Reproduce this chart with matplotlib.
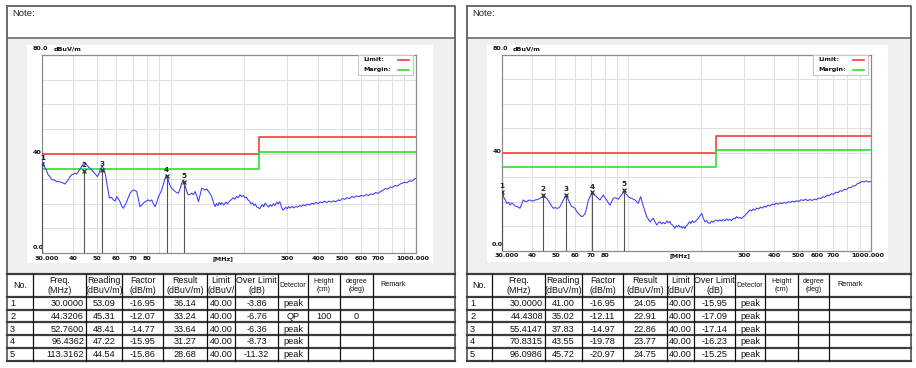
import matplotlib
matplotlib.use('Agg')
import matplotlib.pyplot as plt
from matplotlib.patches import Rectangle
from matplotlib.lines import Line2D

plt.rcParams['font.family'] = ['Liberation Sans', 'DejaVu Sans']

# ---------------- data ----------------
x_ticks = [30, 40, 50, 60, 70, 80, 90, 100, 200, 300, 400, 500, 600, 700, 800, 900, 1000]
x_tick_labels = ['', '40', '50', '60', '70', '80', '', '', '', '300', '400', '500', '600', '700', '', '', '']
limit_freq = [30, 230, 230, 1000]
limit_level = [40, 40, 47, 47]
margin_level = [34, 34, 41, 41]

left_freq = [30.0, 30.4, 30.8, 31.2, 31.7, 32.2, 32.7, 33.5, 34.3, 35.1, 36.0, 36.5, 37.1, 37.7, 38.3,
             38.9, 39.5, 40.2, 40.8, 41.4, 42.1, 43.0, 44.1, 44.8, 45.5, 46.9, 48.4, 49.4, 50.3, 51.0,
             51.6, 52.7, 53.4, 54.1, 55.3, 56.3, 57.4, 58.5, 59.4, 60.3, 61.2, 62.2, 63.2, 64.2, 65.2,
             66.3, 67.3, 68.4, 69.5, 70.6, 71.7, 72.8, 73.9, 75.1, 76.3, 77.5, 79.3, 81.2, 82.5, 83.8,
             85.1, 86.5, 87.9, 89.3, 90.7, 92.1, 93.5, 95.0, 96.5, 97.6, 98.7, 100.0, 101.2, 102.8, 104.4,
             106.0, 107.7, 109.4, 111.1, 112.9, 114.1, 115.4, 116.8, 118.3, 120.2, 122.1, 124.0, 126.0,
             128.0, 130.0, 132.0, 134.1, 136.2, 138.4, 140.6, 142.8, 145.0, 147.3, 149.6,
             152, 154, 156, 158, 160, 162, 165, 168, 171, 174, 177, 180, 183, 186, 189, 192, 195, 198,
             201, 204, 207, 210, 213, 216, 219, 222, 225, 228, 231, 234, 237, 240, 243, 247, 251, 255,
             259, 263, 267, 271, 275, 279, 283, 287, 291, 295, 299, 303, 308, 313, 318, 324, 330, 336,
             342, 348, 355, 362, 369, 376, 384, 392, 400, 408, 416, 425, 434, 443, 452, 462, 472, 482,
             492, 503, 514, 525, 537, 549, 561, 574, 587, 600, 614, 628, 642, 657, 672, 687, 703, 719,
             735, 752, 769, 787, 805, 823, 842, 861, 881, 901, 921, 942, 963, 985, 1000]
left_level = [37.0, 35.8, 34.3, 33.5, 31.6, 31.0, 29.8, 29.5, 28.9, 28.9, 28.5, 28.3, 27.9, 28.8, 29.6,
              30.8, 31.6, 31.9, 32.3, 31.9, 32.9, 34.3, 36.0, 36.3, 35.6, 34.3, 32.9, 31.8, 30.9, 32.0,
              33.6, 35.2, 34.0, 32.3, 26.9, 22.2, 22.6, 21.5, 21.0, 22.8, 22.0, 20.8, 19.0, 18.1, 19.3,
              20.8, 22.5, 24.2, 25.0, 25.5, 25.3, 24.9, 22.0, 18.8, 19.4, 20.2, 20.9, 21.5, 21.0, 21.5,
              20.0, 18.8, 20.5, 22.8, 24.1, 25.5, 27.8, 30.2, 31.6, 30.0, 28.2, 27.0, 26.2, 25.5, 24.9,
              24.4, 24.2, 26.0, 28.2, 29.6, 28.0, 26.2, 24.5, 23.5, 23.8, 24.2, 23.6, 24.9,
              23.0, 20.8, 23.5, 26.2, 25.8, 25.5, 25.9, 24.9, 24.0, 22.8, 20.5,
              18.8, 20.0, 19.2, 20.5, 19.6, 20.4, 19.4, 20.6, 19.9, 21.0, 21.6, 22.4, 21.8, 22.9, 22.4,
              23.6, 22.8, 23.3, 22.4, 22.6, 21.5, 21.0, 19.9, 20.3, 19.2, 19.8, 18.6, 18.4, 17.9, 18.9,
              19.6, 18.7, 20.2, 19.3, 18.6, 19.6, 18.9, 20.0, 19.2, 20.6, 19.9, 20.8, 18.9, 17.4, 17.8,
              18.6, 17.9, 18.8, 18.2, 18.9, 18.3, 18.8, 18.6, 19.2, 18.9, 19.5, 19.1, 19.8, 19.4, 20.1,
              19.8, 20.5, 20.0, 20.7, 20.3, 21.0, 20.4, 21.0, 20.6, 21.1, 20.7, 21.5, 21.2, 22.1, 21.7,
              22.4, 22.0, 22.9, 22.5, 23.1, 22.8, 23.3, 23.0, 23.6, 23.3, 23.9, 23.7, 24.5, 24.1, 24.9,
              25.3, 26.1, 25.8, 26.7, 26.5, 27.3, 27.1, 27.8, 28.2, 28.6, 28.4, 29.2, 29.0, 29.8, 30.2]

right_freq = [30.0, 30.4, 30.7, 31.1, 31.5, 32.0, 32.5, 33.0, 33.5, 34.0, 34.6, 35.1, 35.7, 36.2, 36.8,
              37.4, 38.0, 38.6, 39.3, 40.2, 41.2, 42.2, 43.2, 44.5, 45.2, 46.0, 46.7, 47.5, 48.2, 49.0,
              49.8, 50.6, 51.4, 52.2, 53.0, 53.9, 55.3, 55.9, 56.5, 57.4, 58.3, 59.2, 60.2, 61.1, 62.1,
              63.1, 64.1, 65.1, 66.2, 67.2, 68.3, 69.6, 71.0, 72.4, 73.9, 75.1, 76.3, 77.5, 78.8, 80.0,
              81.3, 82.6, 83.9, 85.2, 86.6, 88.0, 89.4, 90.8, 92.3, 94.2, 96.2, 98.0, 99.9, 101.5, 103.1,
              104.7, 106.4, 108.1, 109.8, 111.0, 112.3, 113.7, 115.2, 117.0, 118.9, 120.8, 122.7, 124.6,
              126.6, 128.6, 130.7, 132.8,
              134.9, 137, 139, 141.5, 144, 146, 148.3, 150, 152, 154, 155.5, 157, 159.3, 161, 163.1,
              165, 167, 169, 171, 173, 175.1, 177, 179.3, 181, 183.6, 186, 188, 191, 194.1, 197.2,
              200.4, 203.6, 206.8, 210, 213, 216.9, 220, 223.8, 227, 231, 234, 238, 242, 246, 250,
              254, 258, 262, 266, 271, 275, 279, 284, 288, 293, 297.5, 302, 307, 312, 317, 322, 327,
              332, 338, 344, 350, 356, 362, 369, 376, 383, 390, 398, 406, 414, 422, 430, 438, 447,
              456, 465, 474, 484, 494, 504, 515, 526, 537, 548, 560, 572, 584, 596, 608, 620, 633,
              646, 659, 673, 687, 701, 716, 731, 746, 762, 778, 794, 810, 827, 844, 862, 880, 898,
              917, 936, 956, 976, 1000]
right_level = [24.1, 23.0, 21.4, 20.5, 19.3, 19.8, 18.6, 19.5, 19.0, 18.3, 18.0, 17.8, 17.3, 18.8, 20.7,
               20.2, 20.0, 20.5, 20.7, 20.2, 20.7, 20.9, 21.4, 22.0, 21.8, 21.4, 20.4, 19.3, 18.2, 17.3,
               17.6, 17.3, 17.4, 18.0, 19.3, 20.7, 22.7, 21.8, 20.7, 19.2, 18.0, 17.8, 17.3, 16.0, 15.2,
               14.5, 13.9, 14.2, 15.2, 17.5, 20.7, 22.3, 23.4, 22.8, 22.0, 21.2, 20.7, 21.8, 22.7, 21.5,
               20.7, 19.5, 18.6, 20.0, 21.4, 21.6, 21.4, 21.0, 22.0, 23.2, 24.1, 23.0, 22.0, 21.6, 21.4,
               21.0, 20.7, 20.0, 19.3, 20.8, 22.0, 20.0, 18.0, 16.0, 13.9, 12.8, 11.8, 12.6,
               13.2, 11.8, 10.5, 11.4,
               11.8, 10.9, 11.6, 11.0, 12.1, 11.4, 11.9, 10.8, 10.5, 9.6, 9.1, 10.2, 9.8, 10.4, 9.6,
               9.9, 9.2, 9.8, 9.1, 10.2, 10.5, 11.4, 11.8, 11.1, 12.2, 11.5, 11.8, 12.6, 13.2, 14.3,
               15.2, 13.2, 11.8, 12.3, 11.3, 11.2, 12.0, 11.6, 12.4, 12.5, 12.0, 12.6, 12.1, 12.7, 12.2,
               13.0, 12.4, 12.8, 12.3, 13.2, 13.0, 13.9, 13.3, 13.6, 13.1, 13.9, 14.3, 15.2, 15.9, 16.6,
               16.2, 17.0, 16.6, 17.4, 17.0, 17.8, 17.4, 18.1, 17.8, 18.6, 18.2, 19.0, 18.7, 19.4, 19.0,
               19.5, 19.2, 19.7, 19.4, 20.0, 19.7, 20.2, 19.9, 20.4, 20.1, 20.8, 20.5, 21.0, 20.4, 20.9,
               20.5, 21.1, 20.8, 21.5, 21.3, 22.0, 21.8, 22.7, 22.4, 23.3, 23.0, 23.9, 23.7, 24.5, 24.3,
               25.1, 25.0, 25.8, 25.7, 26.5, 26.5, 27.4, 27.6, 28.3, 28.0, 28.5, 28.1, 28.2]

header = ['No.', 'Freq.\n(MHz)', 'Reading\n(dBuV/m)', 'Factor\n(dB/m)', 'Result\n(dBuV/m)',
          'Limit\n(dBuV/', 'Over Limit\n(dB)', 'Detector', 'Height\n(cm)', 'degree\n(deg)', 'Remark']

left_no = ['1', '2', '3', '4', '5']
left_freq_txt = ['30.0000', '44.3206', '52.7600', '96.4362', '113.3162']
left_reading = ['53.09', '45.31', '48.41', '47.22', '44.54']
left_factor = ['-16.95', '-12.07', '-14.77', '-15.95', '-15.86']
left_result = ['36.14', '33.24', '33.64', '31.27', '28.68']
left_limit = ['40.00', '40.00', '40.00', '40.00', '40.00']
left_over = ['-3.86', '-6.76', '-6.36', '-8.73', '-11.32']
left_detector = ['peak', 'QP', 'peak', 'peak', 'peak']
left_height = ['', '100', '', '', '']
left_degree = ['', '0', '', '', '']

right_no = ['1', '2', '3', '4', '5']
right_freq_txt = ['30.0000', '44.4308', '55.4147', '70.8315', '96.0986']
right_reading = ['41.00', '35.02', '37.83', '43.55', '45.72']
right_factor = ['-16.95', '-12.11', '-14.97', '-19.78', '-20.97']
right_result = ['24.05', '22.91', '22.86', '23.77', '24.75']
right_limit = ['40.00', '40.00', '40.00', '40.00', '40.00']
right_over = ['-15.95', '-17.09', '-17.14', '-16.23', '-15.25']
right_detector = ['peak', 'peak', 'peak', 'peak', 'peak']
right_height = ['', '', '', '', '']
right_degree = ['', '', '', '', '']

# ---------------- layout helpers ----------------
W, H = 916, 368
fig = plt.figure(figsize=(W / 100, H / 100), dpi=100)
fig.patch.set_facecolor('white')


def fx(x):
    return x / W


def fy(y):
    return 1 - y / H


def rect(x0, y0, x1, y1, **kw):
    fig.add_artist(Rectangle((fx(x0), fy(y1)), fx(x1) - fx(x0), fy(y0) - fy(y1),
                             transform=fig.transFigure, **kw))


def line(xs, ys, **kw):
    fig.add_artist(Line2D([fx(v) for v in xs], [fy(v) for v in ys], transform=fig.transFigure, **kw))


TRACE = '#3a3aff'
RED = '#ff3a3a'
GREEN = '#2ee02e'
BORDER = '#6a6a6a'


def panel(L, R, cols, chart_box, axes_box, trace_f, trace_v, tbl):
    # panel background pieces
    rect(L, 38, R, 273, facecolor='#f0f0f0', edgecolor='none', zorder=0)
    rect(chart_box[0], chart_box[1], chart_box[2], chart_box[3], facecolor='white',
         edgecolor='none', zorder=0.5)
    # outer border and separators
    line([L, R, R, L, L], [6, 6, 361, 361, 6], color=BORDER, lw=1.4, zorder=3)
    line([L, R], [38, 38], color=BORDER, lw=1.2, zorder=3)
    fig.text(fx(L + 5), fy(14), 'Note:', fontsize=6.8, color='#222222', va='center', ha='left')

    # ---- chart ----
    al, at, ar, ab = axes_box
    ax = fig.add_axes([fx(al), fy(ab), fx(ar) - fx(al), fy(at) - fy(ab)])
    ax.set_zorder(5)
    ax.set_xscale('log')
    ax.set_xlim(30, 1000)
    ax.set_ylim(0, 80)
    ax.set_xticks(x_ticks)
    ax.set_xticklabels(x_tick_labels)
    ax.minorticks_off()
    ax.set_yticks(range(0, 81, 10))
    ax.set_yticklabels([])
    ax.tick_params(length=0, pad=2.0, labelsize=4.6, labelcolor='#111111')
    for lab in ax.get_xticklabels():
        lab.set_fontweight('bold')
        lab.set_family('DejaVu Sans')
    ax.grid(True, color='#e0e0e0', lw=0.7)
    ax.set_axisbelow(True)
    for s in ax.spines.values():
        s.set_color('#8c8c8c')
        s.set_linewidth(0.9)
    tk = dict(fontsize=4.6, fontweight='bold', family='DejaVu Sans', color='#111111')
    ax.annotate('30.000', xy=(0, 0), xycoords='axes fraction', xytext=(4.7 * 0.72, -5 * 0.72),
                textcoords='offset points', ha='center', va='center', **tk)
    ax.annotate('1000.000', xy=(1, 0), xycoords='axes fraction', xytext=(-2.7 * 0.72, -5 * 0.72),
                textcoords='offset points', ha='center', va='center', **tk)
    ax.annotate('[MHz]', xy=(163, 0), xycoords=('data', 'axes fraction'), xytext=(0, -5 * 0.72),
                textcoords='offset points', ha='center', va='center', **tk)
    for val, txt, dy in [(80, '80.0', 5.8), (40, '40', 1.3), (0, '0.0', 6.0)]:
        ax.annotate(txt, xy=(0, val), xycoords=('axes fraction', 'data'),
                    xytext=(-9.5 * 0.72, dy * 0.72), textcoords='offset points',
                    ha='left', va='center', **tk)
    ax.annotate('dBuV/m', xy=(0, 80), xycoords=('axes fraction', 'data'),
                xytext=(11 * 0.72, 5.8 * 0.72), textcoords='offset points',
                ha='left', va='center', **tk)

    ax.plot(limit_freq, limit_level, color=RED, lw=1.2, zorder=3)
    ax.plot(limit_freq, margin_level, color=GREEN, lw=1.2, zorder=3)
    ax.plot(trace_f, trace_v, color=TRACE, lw=0.75, zorder=4)

    # markers
    nos, freqs, results = tbl[0], tbl[1], tbl[4]
    for n, f, r in zip(nos, freqs, results):
        f = float(f)
        r = float(r)
        ax.vlines(f, 0, r, color='#555555', lw=0.8, zorder=5)
        ax.plot([f], [r], marker='x', color='#333333', ms=3.4, mew=0.9, zorder=6)
        ax.annotate(n, xy=(f, r), xytext=(0, 2.0), textcoords='offset points', ha='center',
                    va='bottom', fontsize=5.2, fontweight='bold', family='DejaVu Sans',
                    color='#222222', zorder=6)

    # legend (upper right, label left of line)
    lg_w, lg_h = 55.0, 20.0
    pw = ar - al
    ph = ab - at
    x0 = 1 - (lg_w + 2.7) / pw
    ax.add_patch(Rectangle((x0, 1 - lg_h / ph), lg_w / pw, lg_h / ph, transform=ax.transAxes,
                           facecolor='white', edgecolor='#c8c8c8', lw=0.8, zorder=7))
    for i, (lbl, c) in enumerate([('Limit:', RED), ('Margin:', GREEN)]):
        yy = 1 - (5 + 10 * i) / ph
        ax.text(x0 + 5.5 / pw, yy, lbl, transform=ax.transAxes, ha='left', va='center',
                fontsize=4.6, fontweight='bold', family='DejaVu Sans', color='#111111', zorder=8)
        ax.add_line(Line2D([x0 + 40 / pw, x0 + 51 / pw], [yy, yy], transform=ax.transAxes,
                           color=c, lw=1.2, zorder=8))

    # ---- table ----
    top = 274.0
    hdr_bot = 296.7
    rh = 12.8
    bot = hdr_bot + 5 * rh
    rows_y = [top, hdr_bot] + [hdr_bot + rh * (i + 1) for i in range(5)]
    for y in rows_y:
        line([L, R], [y, y], color='#3c3c3c', lw=1.6, zorder=3)
    for x in cols[1:-1]:
        line([x, x], [top, bot], color='#111111', lw=0.9, zorder=3)
    # header
    for i, h in enumerate(header):
        cx = (cols[i] + cols[i + 1]) / 2
        small = h.startswith(('Detector', 'Height', 'degree', 'Remark'))
        fs = 5.0 if small else 6.4
        if h == 'Remark':
            fig.text(fx(cols[i] + 8), fy((top + hdr_bot) / 2 - 1), h, fontsize=5.2, ha='left',
                     va='center', color='#111111')
        else:
            fig.text(fx(cx), fy((top + hdr_bot) / 2), h, fontsize=fs, ha='center', va='center',
                     color='#111111', linespacing=1.1)
    # body
    for r in range(5):
        cy = hdr_bot + rh * r + rh / 2 + 0.3
        vals = [c[r] for c in tbl]
        for j, v in enumerate(vals):
            if not v:
                continue
            if j == 0:
                fig.text(fx(cols[0] + 3), fy(cy), v, fontsize=6.6, ha='left', va='center', color='#111111')
            elif j == 1:
                fig.text(fx(cols[2] - 2), fy(cy), v, fontsize=6.6, ha='right', va='center', color='#111111')
            else:
                cx = (cols[j] + cols[j + 1]) / 2
                fig.text(fx(cx), fy(cy), v, fontsize=6.6, ha='center', va='center', color='#111111')


left_tbl = [left_no, left_freq_txt, left_reading, left_factor, left_result, left_limit, left_over,
            left_detector, left_height, left_degree]
right_tbl = [right_no, right_freq_txt, right_reading, right_factor, right_result, right_limit,
             right_over, right_detector, right_height, right_degree]

panel(7, 455, [7, 33.3, 86, 121.7, 163.3, 207.3, 235, 278.3, 307.7, 340, 372.7, 455],
      (27, 45, 433, 263), (42.3, 54.8, 415.7, 253.2), left_freq, left_level, left_tbl)
panel(467, 911, [467, 492.3, 545, 581.7, 623.3, 666.7, 694.3, 735, 765, 797.7, 829.3, 911],
      (487, 45, 888, 262), (501.7, 54.7, 871, 250.7), right_freq, right_level, right_tbl)

fig.savefig('out.png', dpi=100, facecolor='white')
